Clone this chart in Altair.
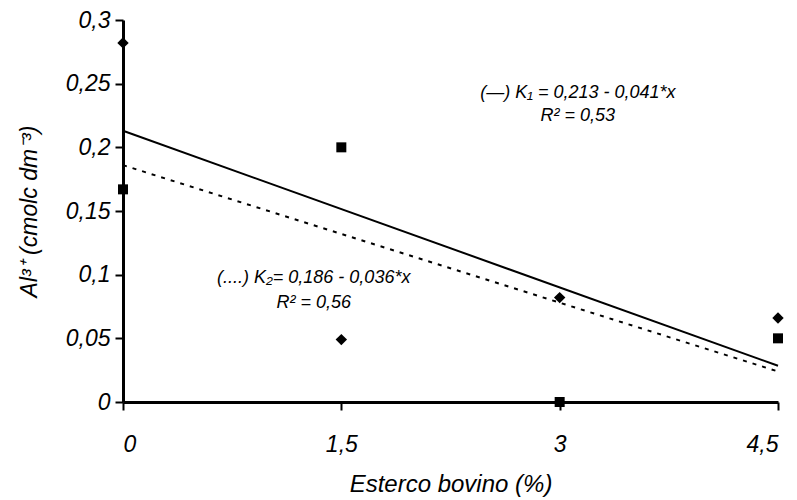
import altair as alt
import pandas as pd

# Data
x_vals = [0, 1.5, 3, 4.5]
k1_points = [0.167, 0.200, 0.000, 0.050]   # squares
k2_points = [0.282, 0.049, 0.082, 0.066]   # diamonds

line_x = [0, 4.5]
k1_line = [0.213, 0.0285]   # solid
k2_line = [0.186, 0.024]    # dotted

ann_text = ["(\u2014) K\u2081 = 0,213 - 0,041*x", "R\u00b2 = 0,53",
            "(....) K\u2082= 0,186 - 0,036*x", "R\u00b2 = 0,56"]
ann_x = [3.125, 3.125, 1.31, 1.31]
ann_y = [0.243, 0.2245, 0.0974, 0.0778]

FONT = "Liberation Sans"

pts = pd.DataFrame({
    "x": x_vals * 2,
    "y": k1_points + k2_points,
    "s": ["K1"] * 4 + ["K2"] * 4,
})
lines = pd.DataFrame({
    "x": line_x * 2,
    "y": k1_line + k2_line,
    "s": ["K1"] * 2 + ["K2"] * 2,
})
ann = pd.DataFrame({"t": ann_text, "x": ann_x, "y": ann_y})

xscale = alt.Scale(domain=[0, 4.5], nice=False, zero=False)
yscale = alt.Scale(domain=[0, 0.3], nice=False)

comma = "replace(format(datum.value, ''), '.', ',')"

xaxis = alt.Axis(values=[0, 1.5, 3, 4.5], labelExpr=comma, grid=False,
                 title="Esterco bovino (%)", tickSize=8, tickWidth=2,
                 domainWidth=3, domainColor="black", tickColor="black",
                 labelFont=FONT, labelFontSize=23, labelFontStyle="italic",
                 labelColor="black", labelPadding=23,
                 titleFont=FONT, titleFontSize=24, titleFontStyle="italic",
                 titleFontWeight="normal", titleColor="black", titlePadding=16)
yaxis = alt.Axis(values=[0, 0.05, 0.1, 0.15, 0.2, 0.25, 0.3], labelExpr=comma,
                 grid=False, title="Al\u00b3\u207a (cmolc dm\u207b\u00b3)",
                 tickSize=8, tickWidth=2, domainWidth=3, domainColor="black",
                 tickColor="black", labelFont=FONT, labelFontSize=23,
                 labelFontStyle="italic", labelColor="black", labelPadding=5,
                 titleFont=FONT, titleFontSize=23, titleFontStyle="italic",
                 titleFontWeight="normal", titleColor="black", titlePadding=24)

sq = alt.Chart(pts).transform_filter("datum.s == 'K1'").mark_point(
    shape="square", filled=True, size=100, color="black", opacity=1
).encode(x=alt.X("x:Q", scale=xscale, axis=xaxis), y=alt.Y("y:Q", scale=yscale, axis=yaxis))

dm = alt.Chart(pts).transform_filter("datum.s == 'K2'").mark_point(
    shape="diamond", filled=True, size=130, color="black", opacity=1
).encode(x=alt.X("x:Q", scale=xscale), y=alt.Y("y:Q", scale=yscale))

l1 = alt.Chart(lines).transform_filter("datum.s == 'K1'").mark_line(
    color="black", strokeWidth=2
).encode(x=alt.X("x:Q", scale=xscale), y=alt.Y("y:Q", scale=yscale))

l2 = alt.Chart(lines).transform_filter("datum.s == 'K2'").mark_line(
    color="black", strokeWidth=2, strokeDash=[4, 6]
).encode(x=alt.X("x:Q", scale=xscale), y=alt.Y("y:Q", scale=yscale))

txt = alt.Chart(ann).mark_text(
    font=FONT, fontSize=18, fontStyle="italic", color="black", align="center", baseline="middle"
).encode(x=alt.X("x:Q", scale=xscale), y=alt.Y("y:Q", scale=yscale), text="t:N")

chart = alt.layer(l1, l2, sq, dm, txt).properties(
    width=655, height=382,
    autosize=alt.AutoSizeParams(type="none"),
    padding={"left": 123, "top": 20, "right": 19, "bottom": 98},
    background="white",
).configure_view(stroke=None)

chart.save("out.html", embed_options={"renderer": "svg", "actions": False})
